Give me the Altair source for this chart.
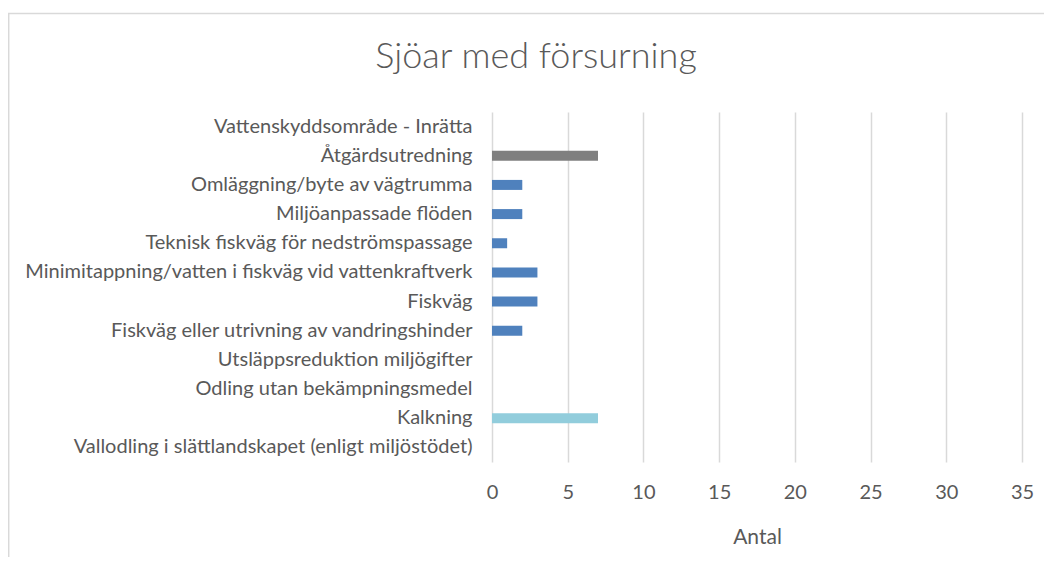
import altair as alt
import pandas as pd

categories = [
    "Vattenskyddsområde - Inrätta",
    "Åtgärdsutredning",
    "Omläggning/byte av vägtrumma",
    "Miljöanpassade flöden",
    "Teknisk fiskväg för nedströmspassage",
    "Minimitappning/vatten i fiskväg vid vattenkraftverk",
    "Fiskväg",
    "Fiskväg eller utrivning av vandringshinder",
    "Utsläppsreduktion miljögifter",
    "Odling utan bekämpningsmedel",
    "Kalkning",
    "Vallodling i slättlandskapet (enligt miljöstödet)",
]
values = [0, 7, 2, 2, 1, 3, 3, 2, 0, 0, 7, 0]
groups = ["Utredning", "Utredning", "Fysisk", "Fysisk", "Fysisk", "Fysisk",
          "Fysisk", "Fysisk", "Övrigt", "Övrigt", "Övrigt", "Övrigt"]
group_names = ["Utredning", "Fysisk", "Övrigt"]
group_colors = ["#7f7f7f", "#4f81bd", "#92cddc"]
x_ticks = [0, 5, 10, 15, 20, 25, 30, 35]

df = pd.DataFrame({"kategori": categories, "antal": values, "grupp": groups})

FONT = "Lato"
TXT = "#595959"

bars = alt.Chart(df).mark_bar().encode(
    y=alt.Y("kategori:N", sort=categories,
            scale=alt.Scale(paddingInner=0.657, paddingOuter=0.3285),
            axis=alt.Axis(title=None, ticks=False, domain=False, labelPadding=20,
                          labelFontSize=20, labelFont=FONT, labelColor=TXT,
                          labelLimit=600, grid=False)),
    x=alt.X("antal:Q", scale=alt.Scale(domain=[0, 35], nice=False),
            axis=alt.Axis(title="Antal", values=x_ticks, ticks=False, domain=False,
                          labelPadding=20, labelFontSize=20, labelFont=FONT,
                          labelColor=TXT, labelFlush=False, titleFont=FONT,
                          titleFontSize=21, titleFontWeight="normal", titleColor=TXT,
                          titlePadding=24, grid=True, gridColor="#d9d9d9",
                          gridWidth=1.5)),
    color=alt.Color("grupp:N", scale=alt.Scale(domain=group_names, range=group_colors),
                    legend=None),
)

border = alt.Chart(pd.DataFrame({"a": [0]})).mark_rect(
    fill=None, stroke="#d9d9d9", strokeWidth=1.5
).encode(
    x=alt.value(-483.3), y=alt.value(-98.5), x2=alt.value(700), y2=alt.value(700)
)

chart = alt.layer(border, bars).properties(
    width=530, height=350,
    autosize=alt.AutoSizeParams(type="none"),
    padding={"left": 484, "top": 104, "right": 22, "bottom": 95},
    title=alt.TitleParams(
        "Sjöar med försurning", font=FONT, fontSize=36, fontWeight=300,
        color=TXT, anchor="middle", frame="group", dx=-221, offset=-91,
        baseline="alphabetic",
    ),
).configure_view(stroke=None)

chart.save("out.html", embed_options={"renderer": "svg", "actions": False})
